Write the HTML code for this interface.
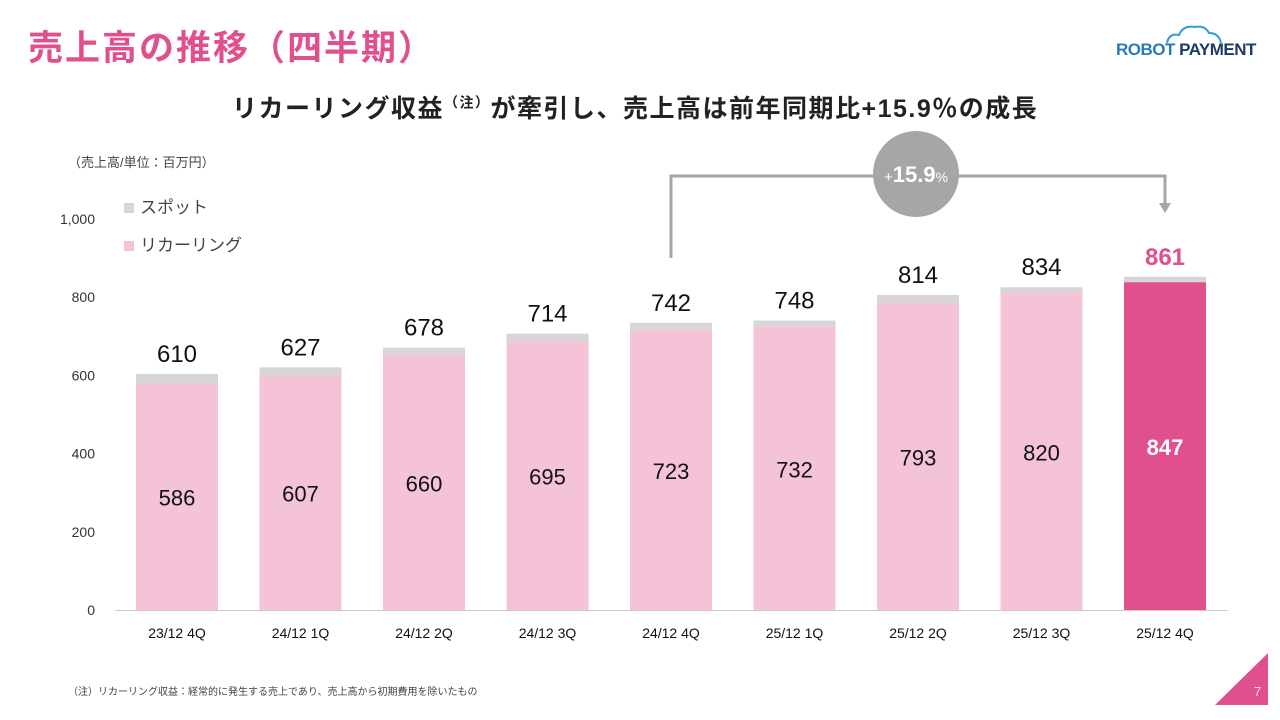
<!DOCTYPE html>
<html><head><meta charset="utf-8"><style>
body{margin:0;width:1280px;height:720px;background:#fff;position:relative;overflow:hidden;font-family:"Liberation Sans","Noto Sans CJK JP",sans-serif}
.a{position:absolute;white-space:nowrap}
</style></head><body>
<div class="a" style="left:28px;top:20px;font-size:35px;font-weight:bold;color:#e0508f;letter-spacing:2px">売上高の推移（四半期）</div>
<div class="a" style="left:1116px;top:40px;font-size:17px;font-weight:bold;letter-spacing:-0.5px"><span style="color:#2a7ab8">ROBOT</span><span style="color:#1d3a66"> PAYMENT</span></div>
<svg class="a" style="left:1165px;top:23px" width="70" height="22"><path d="M2 20 Q4 10 14 12 Q18 2 30 4 Q40 2 44 10 Q54 10 56 20" fill="none" stroke="#2a9fd8" stroke-width="2"/></svg>
<div class="a" style="left:232px;top:89px;font-size:25px;font-weight:bold;color:#222;letter-spacing:1.5px">リカーリング収益<sup style="font-size:14px">（注）</sup>が牽引し、売上高は前年同期比+15.9％の成長</div>
<div class="a" style="left:68px;top:152px;font-size:13px;color:#444">（売上高/単位：百万円）</div>
<div class="a" style="left:124px;top:193px;font-size:17px;color:#444"><span style="display:inline-block;width:10px;height:10px;background:#d6d6d6;margin-right:6px"></span>スポット</div>
<div class="a" style="left:124px;top:231px;font-size:17px;color:#444"><span style="display:inline-block;width:10px;height:10px;background:#f4c3d8;margin-right:6px"></span>リカーリング</div>
<div class="a" style="left:68px;top:683px;font-size:10px;color:#444">（注）リカーリング収益：経常的に発生する売上であり、売上高から初期費用を除いたもの</div>
<svg class="a" style="left:1210px;top:650px" width="70" height="60"><polygon points="5,55 58,3 58,55" fill="#e0508f"/></svg>
<div class="a" style="left:1254px;top:684px;font-size:13px;color:#fde">7</div>
<svg id="c" class="a" style="left:0;top:0" width="1280" height="650"></svg>
<script>
const categories=["23/12 4Q","24/12 1Q","24/12 2Q","24/12 3Q","24/12 4Q","25/12 1Q","25/12 2Q","25/12 3Q","25/12 4Q"];
const recurring=[586,607,660,695,723,732,793,820,847];
const totals=[610,627,678,714,742,748,814,834,861];
const ticks=[0,200,400,600,800,1000];
const tickLabels=["0","200","400","600","800","1,000"];
const svg=document.getElementById('c'),NS='http://www.w3.org/2000/svg';
const y=v=>610-v*0.391, yb=v=>610-v*0.387, x=i=>177+i*123.5, bw=82;
function mk(t,a,txt){const e=document.createElementNS(NS,t);for(const k in a)e.setAttribute(k,a[k]);if(txt!=null)e.textContent=txt;svg.appendChild(e);return e;}
ticks.forEach((t,i)=>{const e=mk('text',{x:95,y:y(t)+5,'text-anchor':'end','font-size':14,fill:'#333'},tickLabels[i]);

});
const ax=mk('line',{x1:115,x2:1228,y1:610.5,y2:610.5,stroke:'#ccc'});


categories.forEach((c,i)=>{
 const last=i===categories.length-1;
 const s=mk('rect',{x:x(i)-bw/2,y:yb(totals[i]),width:bw,height:yb(recurring[i])-yb(totals[i]),fill:'#d6d6d6'});
 
 
 const r=mk('rect',{x:x(i)-bw/2,y:yb(recurring[i]),width:bw,height:610-yb(recurring[i]),fill:last?'#e0508f':'#f4c3d8'});
 
 
 const rl=mk('text',{x:x(i),y:(610+yb(recurring[i]))/2+9,'text-anchor':'middle','font-size':22,fill:last?'#fff':'#111','font-weight':last?'bold':'normal'},recurring[i]);
 
 
 const tl=mk('text',{x:x(i),y:yb(totals[i])-12,'text-anchor':'middle','font-size':24,fill:last?'#e0508f':'#111','font-weight':last?'bold':'normal'},totals[i]);
 
 
 const cl=mk('text',{x:x(i),y:638,'text-anchor':'middle','font-size':14,fill:'#111'},c);
 
 
});
const p=mk('polyline',{points:`${x(4)},258 ${x(4)},176 ${x(8)},176 ${x(8)},206`,fill:'none',stroke:'#a6a6a6','stroke-width':3});


const ar=mk('polygon',{points:`${x(8)-6},203 ${x(8)+6},203 ${x(8)},213`,fill:'#a6a6a6'});


const ci=mk('circle',{cx:916,cy:174,r:43,fill:'#a6a6a6'});


const gt=mk('text',{x:916,y:182,'text-anchor':'middle',fill:'#fff','font-size':22,'font-weight':'bold'});
gt.innerHTML='<tspan font-size="15" font-weight="normal">+</tspan>15.9<tspan font-size="14" font-weight="normal">%</tspan>';


</script>
</body></html>
